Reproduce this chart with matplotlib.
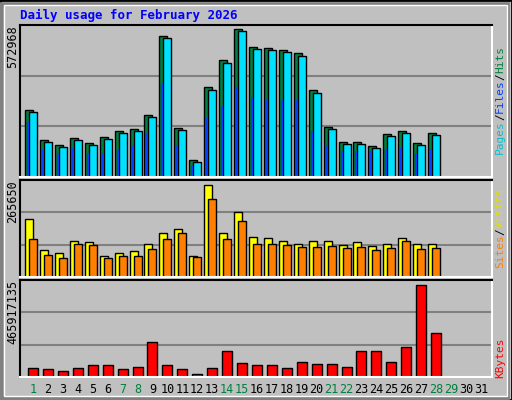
import matplotlib.pyplot as plt
from matplotlib.patches import Rectangle

days = list(range(1, 29))
hits = [261166, 144226, 124736, 152022, 132532, 155920, 179308, 187104, 241676, 545720,
        191002, 66266, 346922, 452168, 572968, 502842, 498944, 491148, 479454, 335228,
        194900, 136430, 136430, 120838, 167614, 179308, 132532, 171512]
files = [h - 9000 for h in hits]
pages = [214390, 105246, 93552, 113042, 93552, 93552, 105246, 120838, 167614, 358616,
         124736, 42878, 229982, 276758, 346922, 307942, 296248, 296248, 296248, 179308,
         120838, 101348, 101348, 101348, 109144, 113042, 93552, 109144]
visits = [167446, 77949, 69288, 103932, 101045, 60627, 69288, 75062, 95271, 127028,
          138576, 60627, 265650, 127028, 187655, 115480, 112593, 103932, 95271, 103932,
          103932, 92384, 101045, 89497, 95271, 112593, 95271, 95271]
sites = [109706, 63514, 54853, 95271, 92384, 54853, 60627, 60627, 80836, 109706,
         127028, 57740, 225186, 109706, 161672, 95271, 95271, 92384, 86610, 86610,
         89497, 83723, 86610, 77949, 83723, 103932, 80836, 83723]
kbytes = [45.6e6, 40.5e6, 30.4e6, 45.6e6, 60.8e6, 60.8e6, 40.5e6, 50.6e6, 177.3e6, 60.8e6,
          40.5e6, 15.2e6, 45.6e6, 131.7e6, 70.9e6, 60.8e6, 60.8e6, 45.6e6, 76.0e6, 65.8e6,
          65.8e6, 50.6e6, 131.7e6, 131.7e6, 76.0e6, 151.9e6, 465917135, 222.8e6]
weekend = [1, 7, 8, 14, 15, 21, 22, 28, 29]

mono = 'DejaVu Sans Mono'
px = 1 / 14.93  # one pixel in day units
bg = '#c0c0c0'

fig = plt.figure(figsize=(5.12, 4.0), dpi=100, facecolor=bg)
W, H = 512, 400

# outer border / bevel
fig.patches.append(Rectangle((0, 0), 1, 1, transform=fig.transFigure, fill=False,
                             ec='black', lw=2, zorder=-3))
fig.patches.append(Rectangle((1 / W, 1 / H), 1 - 6 / W, 1 - 6 / H, transform=fig.transFigure,
                             fill=False, ec='#808080', lw=4, zorder=-2))
fig.patches.append(Rectangle((4 / W, 4 / H), 1 - 9 / W, 1 - 9 / H, transform=fig.transFigure,
                             fill=True, fc=bg, ec='white', lw=1, zorder=-1))


def panel(top, bottom, ymax):
    ax = fig.add_axes([20 / W, 1 - bottom / H, 472 / W, (bottom - top) / H])
    ax.set_zorder(2)
    ax.set_facecolor(bg)
    ax.set_xlim(0.13, 31.74)
    ax.set_ylim(0, ymax)
    for f in (1 / 3, 2 / 3):
        ax.axhline(ymax * f, color='#808080', lw=1.5, zorder=0)
    for s in ('top', 'left'):
        ax.spines[s].set_color('black')
        ax.spines[s].set_linewidth(1.5)
    for s in ('bottom', 'right'):
        ax.spines[s].set_color('white')
        ax.spines[s].set_linewidth(1.5)
    ax.set_xticks([])
    ax.set_yticks([])
    return ax


ax1 = panel(25, 177, 572968 * 151 / 147)
ax1.bar([d - 4 * px for d in days], hits, width=8 * px, color='#008040', ec='black', lw=1)
ax1.bar([d for d in days], files, width=8 * px, color='#00e0ff', ec='black', lw=1)
ax1.bar([d - 5 * px for d in days], pages, width=2 * px, color='#0040ff', lw=0)

ax2 = panel(180, 277, 265650 * 97 / 92)
ax2.bar([d - 4 * px for d in days], visits, width=8 * px, color='#ffff00', ec='black', lw=1)
ax2.bar([d for d in days], sites, width=8 * px, color='#ff8000', ec='black', lw=1)

ax3 = panel(280, 377, 465917135 * 97 / 92)
ax3.bar(days, kbytes, width=10 * px, color='#ff0000', ec='black', lw=1)

for d in range(1, 32):
    ax3.text(d, -0.06, str(d), transform=ax3.get_xaxis_transform(), ha='center', va='top',
             fontsize=8.5, family=mono, color='#008040' if d in weekend else 'black')

fig.text(20 / W, 1 - 15 / H, 'Daily usage for February 2026', color='#0000ff',
         fontsize=9, family=mono, weight='bold', va='center')

for y, lab in ((25, '572968'), (180, '265650'), (280, '465917135')):
    fig.text(13 / W, 1 - y / H, lab, rotation=90, ha='center', va='top', fontsize=8.5,
             family=mono)


def right_label(ycenter, parts):
    total = sum(len(t) for t, c in parts)
    cw = 6.7
    y = ycenter + total * cw / 2
    for t, c in parts:
        fig.text(500 / W, 1 - y / H, t, rotation=90, ha='center', va='bottom',
                 fontsize=8, family=mono, color=c)
        y -= len(t) * cw


right_label(100, [('Pages', '#00c0d0'), ('/', 'black'), ('Files', '#0040ff'), ('/', 'black'), ('Hits', '#008040')])
right_label(228, [('Sites', '#ff8000'), ('/', 'black'), ('Visits', '#e0e000')])
right_label(358, [('KBytes', '#ff0000')])

fig.savefig('out.png', dpi=100, facecolor=bg)
